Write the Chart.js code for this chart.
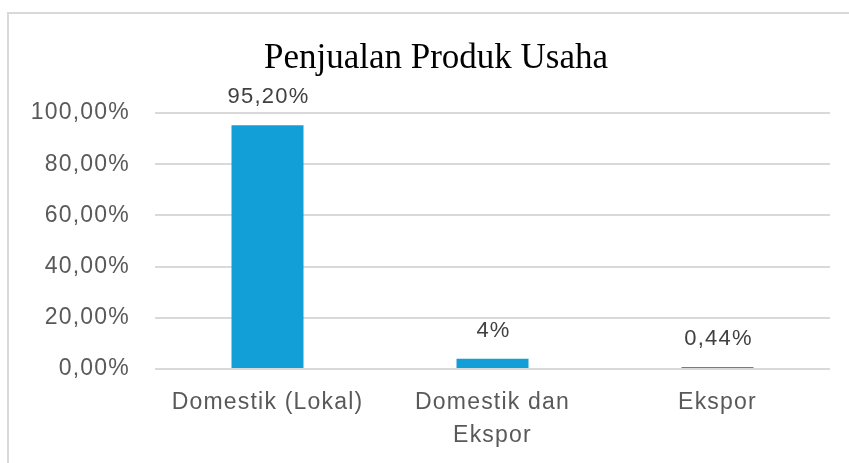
<!DOCTYPE html>
<html>
<head>
<meta charset="utf-8">
<script src="https://cdn.jsdelivr.net/npm/chart.js@4"></script>
<style>
  html, body { margin: 0; padding: 0; background: #fff; }
  #wrap { position: relative; width: 849px; height: 463px; overflow: hidden; }
  #frame { position: absolute; left: 7px; top: 12px; width: 900px; height: 500px; border: 2px solid #d9d9d9; box-sizing: border-box; }
  #chartBox { position: absolute; left: 0; top: 0; width: 849px; height: 463px; }
</style>
</head>
<body>
<div id="wrap">
  <div id="frame"></div>
  <div id="chartBox"><canvas id="penjualanChart"></canvas></div>
</div>
<script>
const judul = 'Penjualan Produk Usaha';
const kategori = ['Domestik (Lokal)', ['Domestik dan', 'Ekspor'], 'Ekspor'];
const persentase = [95.2, 4, 0.44];
const labelNilai = ['95,20%', '4%', '0,44%'];
const tickY = [0, 20, 40, 60, 80, 100];

const sansFont = '"Liberation Sans", Arial, sans-serif';
const spasi = '1.2px';

// spasi huruf untuk teks sumbu (mirip tampilan Excel)
const spasiHuruf = {
    id: 'spasiHuruf',
    beforeLayout(chart) { chart.ctx.letterSpacing = spasi; },
    beforeDraw(chart) { chart.ctx.letterSpacing = spasi; }
};

const labelBatang = {
    id: 'labelBatang',
    afterDatasetsDraw(chart) {
        const ctx = chart.ctx;
        const meta = chart.getDatasetMeta(0);
        ctx.save();
        ctx.letterSpacing = spasi;
        ctx.font = '22px ' + sansFont;
        ctx.fillStyle = '#404040';
        ctx.textAlign = 'center';
        ctx.textBaseline = 'alphabetic';
        meta.data.forEach(function (bar, i) {
            ctx.fillText(labelNilai[i], bar.x + 1, bar.y - 22);
        });
        ctx.restore();
    }
};

const judulChart = {
    id: 'judulChart',
    afterDraw(chart) {
        const ctx = chart.ctx;
        ctx.save();
        ctx.letterSpacing = '0px';
        ctx.font = '35px "Liberation Serif", "Times New Roman", serif';
        ctx.fillStyle = '#000000';
        ctx.textAlign = 'center';
        ctx.textBaseline = 'alphabetic';
        ctx.fillText(judul, 436, 68);
        ctx.restore();
    }
};

document.addEventListener('DOMContentLoaded', function () {
    const ctx = document.getElementById('penjualanChart').getContext('2d');
    new Chart(ctx, {
        type: 'bar',
        data: {
            labels: kategori,
            datasets: [{
                data: persentase,
                backgroundColor: '#129fd8',
                borderWidth: 0,
                barPercentage: 0.32,
                categoryPercentage: 1,
                minBarLength: 2
            }]
        },
        options: {
            responsive: true,
            maintainAspectRatio: false,
            animation: false,
            layout: { padding: { top: 113, right: 19, left: 0, bottom: 0 } },
            plugins: {
                legend: { display: false },
                tooltip: { enabled: false },
                title: { display: false }
            },
            scales: {
                x: {
                    afterFit: function (scale) { scale.height = 94; },
                    grid: { display: false, drawTicks: false },
                    border: { display: false },
                    ticks: {
                        color: '#595959',
                        font: { family: sansFont, size: 23, lineHeight: 1.43 },
                        padding: 17,
                        maxRotation: 0
                    }
                },
                y: {
                    min: 0,
                    max: 100,
                    afterBuildTicks: function (scale) {
                        scale.ticks = tickY.map(function (v) { return { value: v }; });
                    },
                    afterFit: function (scale) { scale.width = 155; },
                    grid: { color: '#d9d9d9', lineWidth: 2, drawTicks: false },
                    border: { display: false },
                    ticks: {
                        color: '#595959',
                        font: { family: sansFont, size: 23 },
                        padding: 25,
                        callback: function (v) { return v.toFixed(2).replace('.', ',') + '%'; }
                    }
                }
            }
        },
        plugins: [spasiHuruf, labelBatang, judulChart]
    });
});
</script>
</body>
</html>
